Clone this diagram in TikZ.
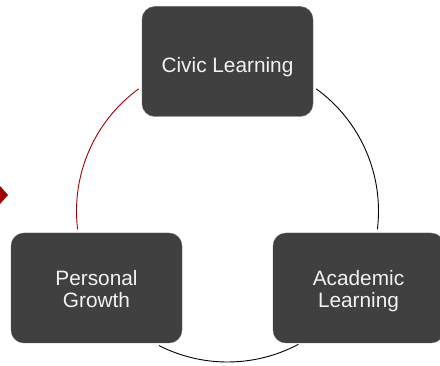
\documentclass[tikz,border=0pt]{standalone}
\usepackage{fontspec}
\setmainfont{Liberation Sans}
\usetikzlibrary{arrows.meta}
\definecolor{boxgray}{HTML}{404040}
\definecolor{cyclered}{HTML}{A00000}

\begin{document}
\begin{tikzpicture}[x=1pt, y=1pt,
  stage/.style={draw=boxgray!85!white, fill=boxgray, rounded corners=13pt,
    minimum width=171pt, minimum height=110pt, text=white!95!black,
    align=center, font=\fontsize{20.8}{22.5}\selectfont, text depth=4.5pt}]
\useasboundingbox (0,0) rectangle (440,-366);
\coordinate (o) at (227.5,-211);
\node[stage, text height=27pt] (civic) at (227.5,-61.5) {Civic Learning};
\node[stage, text height=44.5pt] (personal) at (96.5,-288) {Personal\\Growth};
\node[stage, text height=44.5pt] (academic) at (358.5,-288) {Academic\\Learning};
% arcs of the cycle
\draw[cyclered, line width=0.9pt] ([shift={(126:151)}]o) arc[start angle=126, end angle=187, radius=151];
\draw[black, line width=0.9pt] ([shift={(54:151)}]o) arc[start angle=54, end angle=-7, radius=151];
\draw[black, line width=0.9pt] ([shift={(243:151)}]o) arc[start angle=243, end angle=298, radius=151];
\fill[cyclered] (0,-186) -- (8,-195) -- (0,-204) -- cycle;
\end{tikzpicture}
\end{document}
